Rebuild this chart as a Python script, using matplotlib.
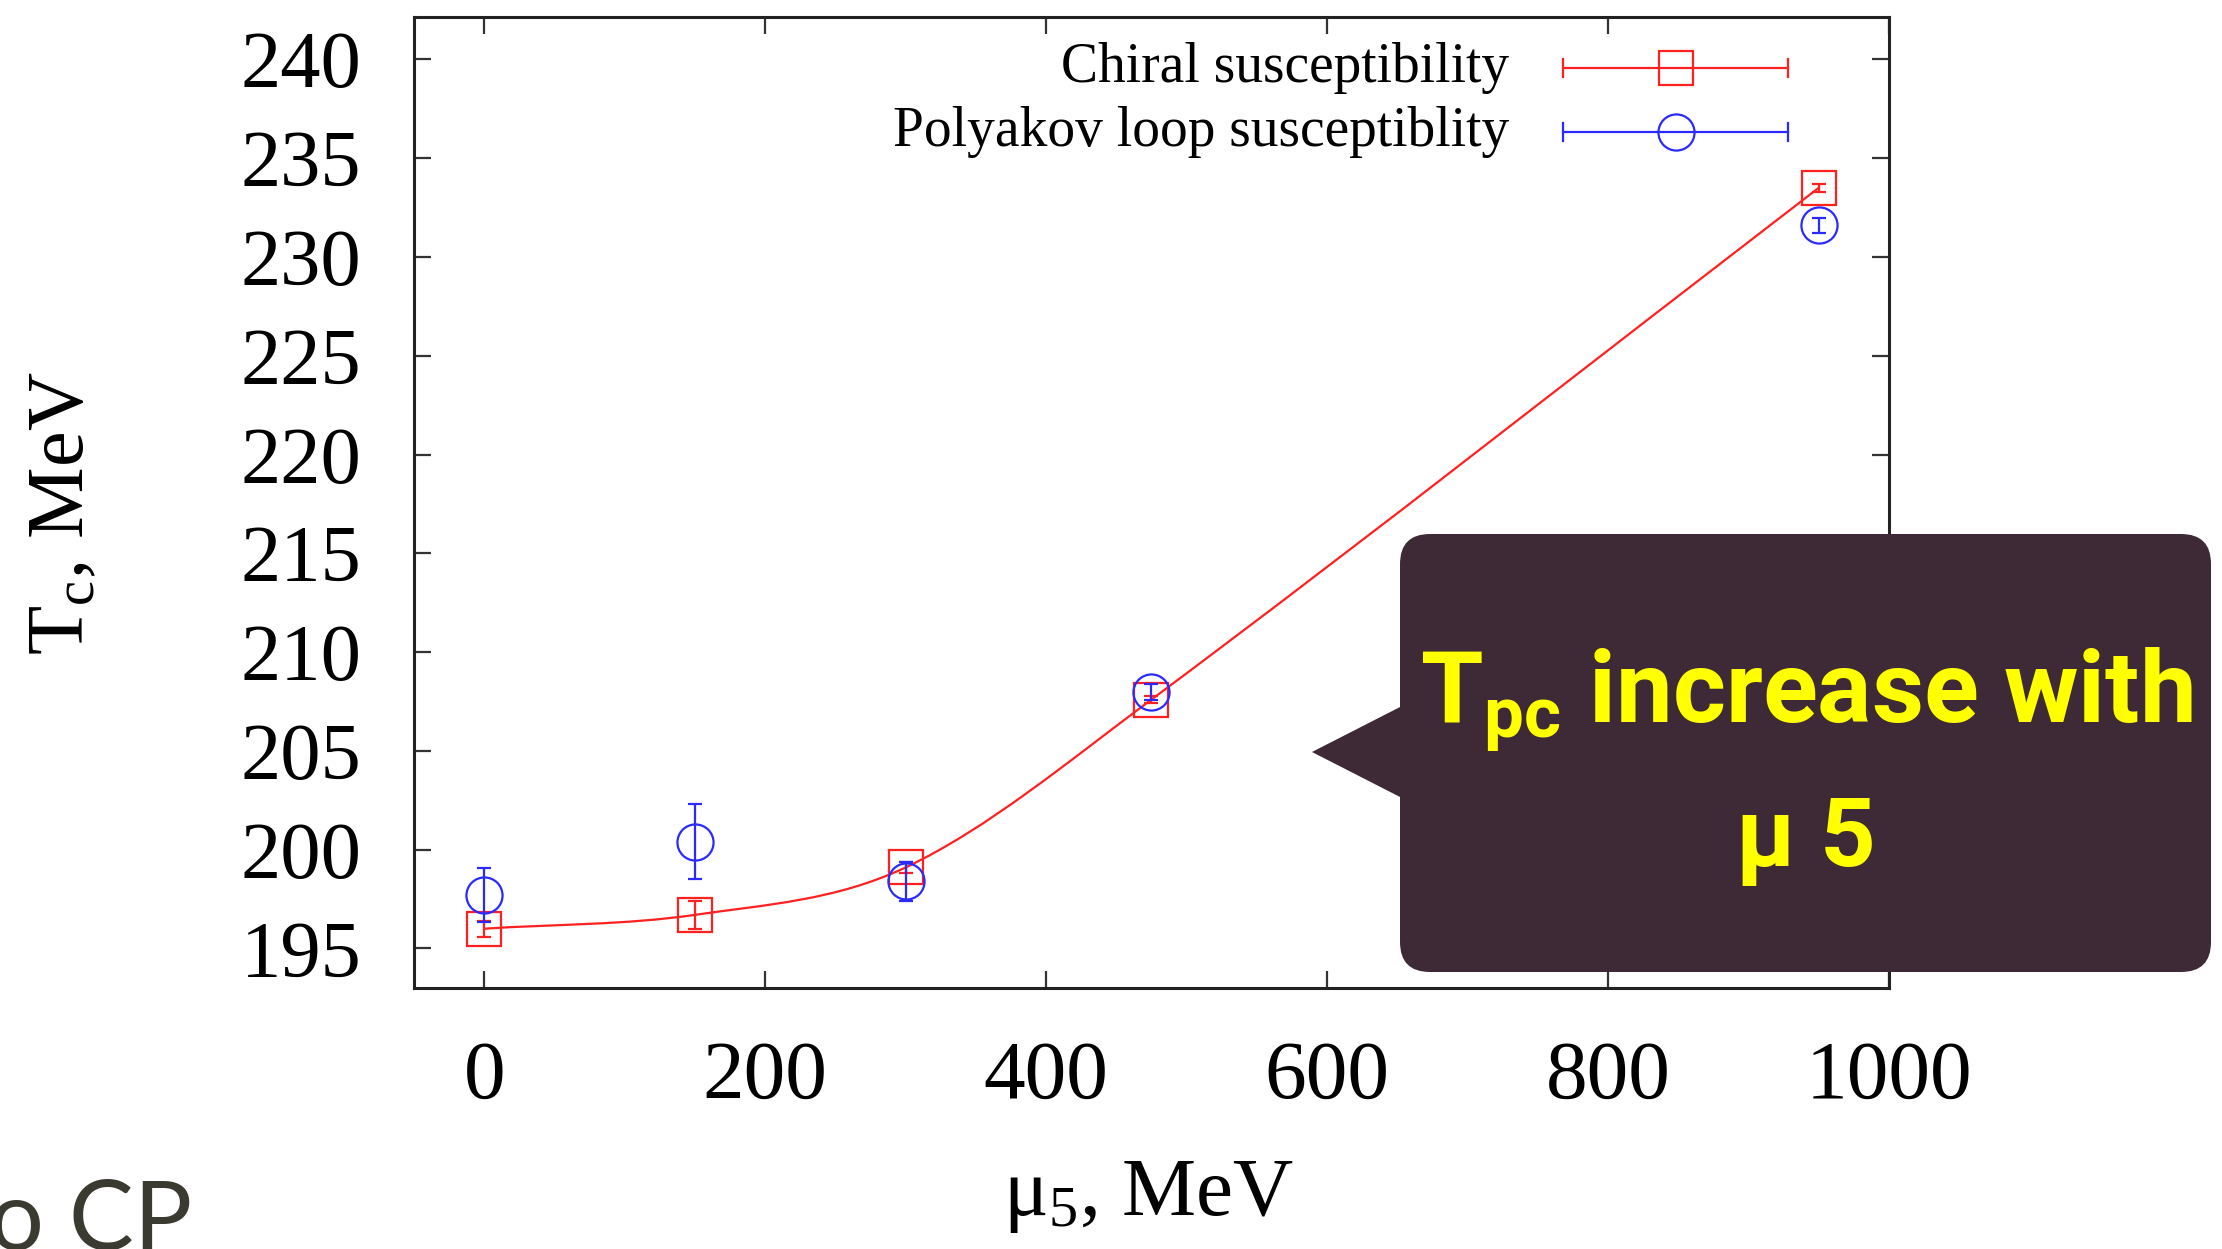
import numpy as np
import matplotlib
matplotlib.use('Agg')
import matplotlib.pyplot as plt
from matplotlib.path import Path
from matplotlib.patches import PathPatch, FancyBboxPatch, Polygon

# data
mu5 = [0, 150, 300, 475, 950]
tc_chiral = [196.0, 196.7, 199.1, 207.6, 233.5]
err_chiral = [0.4, 0.7, 0.3, 0.2, 0.2]
tc_polyakov = [197.7, 200.4, 198.4, 208.0, 231.6]
err_polyakov = [1.35, 1.9, 1.0, 0.4, 0.4]

x_ticks = [0, 200, 400, 600, 800, 1000]
y_ticks = [195, 200, 205, 210, 215, 220, 225, 230, 235, 240]

serif = ['Liberation Serif', 'DejaVu Serif']
plt.rcParams['mathtext.default'] = 'regular'


def smooth_path(x, y):
    # finite-difference tangents -> bezier segments
    x = np.asarray(x, float)
    y = np.asarray(y, float)
    h = np.diff(x)
    m = np.zeros_like(y)
    m[0] = (y[1] - y[0]) / h[0]
    m[-1] = (y[-1] - y[-2]) / h[-1]
    for k in range(1, len(x) - 1):
        m[k] = (y[k + 1] - y[k - 1]) / (x[k + 1] - x[k - 1])
    verts = [(x[0], y[0])]
    codes = [Path.MOVETO]
    for k in range(len(x) - 1):
        verts += [(x[k] + h[k] / 3, y[k] + m[k] * h[k] / 3),
                  (x[k + 1] - h[k] / 3, y[k + 1] - m[k + 1] * h[k] / 3),
                  (x[k + 1], y[k + 1])]
        codes += [Path.CURVE4] * 3
    return Path(verts, codes)


fig = plt.figure(figsize=(22.22, 12.49), dpi=100)
ax = fig.add_axes([0.1863, 0.2090, 0.6638, 0.7774])

ax.add_patch(PathPatch(smooth_path(mu5, tc_chiral), fill=False, color='#ff2020', lw=1.6, zorder=2))
ax.errorbar(mu5, tc_chiral, yerr=err_chiral, fmt='s', ms=24, mfc='none', mec='#ff2020', mew=1.6,
            ecolor='#ff2020', elinewidth=1.6, capsize=5, capthick=1.6, zorder=3)
ax.errorbar(mu5, tc_polyakov, yerr=err_polyakov, fmt='o', ms=26, mfc='none', mec='#2a2aff', mew=1.6,
            ecolor='#2a2aff', elinewidth=1.6, capsize=5, capthick=1.6, zorder=4)

ax.set_xlim(-50, 1000)
ax.set_ylim(193, 242.15)
ax.set_xticks(x_ticks)
ax.set_yticks(y_ticks)
ax.tick_params(direction='in', length=12, width=1.6, top=True, right=True, pad=38,
               color='#333333')
ax.tick_params(axis='y', labelsize=58)
ax.tick_params(axis='x', labelsize=60)
for lab in ax.get_xticklabels() + ax.get_yticklabels():
    lab.set_family(serif)
for sp in ax.spines.values():
    sp.set_linewidth(2.2)
    sp.set_color('#222222')

fig.text(64 / 2222, 1 - 513 / 1249, r'T$_{c}$, MeV', rotation=90, ha='center', va='center',
         fontsize=58, family=serif)
fig.text(1148 / 2222, 1 - 1197 / 1249, r'μ$_{5}$, MeV', ha='center', va='center',
         fontsize=60, family=serif)

# overlay in pixel coordinates for legend and callout
ov = fig.add_axes([0, 0, 1, 1], zorder=10)
ov.set_xlim(0, 2222)
ov.set_ylim(1249, 0)
ov.axis('off')
ov.patch.set_alpha(0)

leg_items = [('Chiral susceptibility', '#ff2020', 's', 68),
             ('Polyakov loop susceptiblity', '#2a2aff', 'o', 132)]
for label, col, mk, yy in leg_items:
    ov.text(1509, yy, label, ha='right', va='center', fontsize=40, family=serif)
    ov.plot([1563, 1788], [yy, yy], color=col, lw=1.6)
    ov.plot([1563, 1563], [yy - 9, yy + 9], color=col, lw=1.6)
    ov.plot([1788, 1788], [yy - 9, yy + 9], color=col, lw=1.6)
    ov.plot([1676], [yy], marker=mk, ms=24 if mk == 's' else 26, mfc='none', mec=col, mew=1.6)

box_col = '#3d2a36'
ov.add_patch(FancyBboxPatch((1430, 564), 751, 378, boxstyle='round,pad=30,rounding_size=30',
                            fc=box_col, ec='none'))
ov.add_patch(Polygon([(1312, 752), (1402, 706), (1402, 798)], closed=True, fc=box_col, ec='none'))

callout_font = ['Roboto', 'DejaVu Sans']
ov.text(1806, 700, r'T$_{pc}$ increase with', ha='center', va='center', fontsize=73,
        fontweight='bold', color='#ffff00', family=callout_font)
ov.text(1806, 840, 'μ 5', ha='center', va='center', fontsize=70,
        fontweight='bold', color='#ffff00', family=callout_font)

fig.text(192 / 2222, 1 - 1222 / 1249, 'to CP', ha='right', va='center', fontsize=70,
         color='#3b3a30', family=['Lato', 'DejaVu Sans'])

fig.savefig('out.png', dpi=100)
